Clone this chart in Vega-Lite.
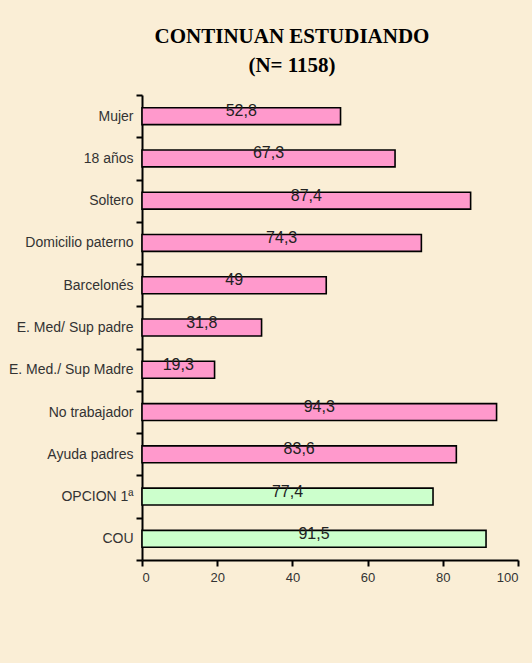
{
  "$schema": "https://vega.github.io/schema/vega-lite/v6.json",
  "width": 376,
  "height": 465,
  "autosize": {"type": "none"},
  "padding": {"left": 142, "top": 95, "right": 14, "bottom": 103},
  "background": "#FAEED6",
  "view": {"stroke": null},
  "title": {
    "text": ["CONTINUAN ESTUDIANDO", "(N= 1158)"],
    "font": "Liberation Serif",
    "fontSize": 21,
    "fontWeight": "bold",
    "color": "#000000",
    "anchor": "middle",
    "dx": -38,
    "offset": -9,
    "baseline": "bottom",
    "lineHeight": 29
  },
  "data": {
    "values": [
      {"cat": "Mujer", "valor": 52.8, "etiqueta": "52,8", "grupo": "perfil"},
      {"cat": "18 años", "valor": 67.3, "etiqueta": "67,3", "grupo": "perfil"},
      {"cat": "Soltero", "valor": 87.4, "etiqueta": "87,4", "grupo": "perfil"},
      {"cat": "Domicilio paterno", "valor": 74.3, "etiqueta": "74,3", "grupo": "perfil"},
      {"cat": "Barcelonés", "valor": 49, "etiqueta": "49", "grupo": "perfil"},
      {"cat": "E. Med/ Sup padre", "valor": 31.8, "etiqueta": "31,8", "grupo": "perfil"},
      {"cat": "E. Med./ Sup Madre", "valor": 19.3, "etiqueta": "19,3", "grupo": "perfil"},
      {"cat": "No trabajador", "valor": 94.3, "etiqueta": "94,3", "grupo": "perfil"},
      {"cat": "Ayuda padres", "valor": 83.6, "etiqueta": "83,6", "grupo": "perfil"},
      {"cat": "OPCION 1ª", "valor": 77.4, "etiqueta": "77,4", "grupo": "academico"},
      {"cat": "COU", "valor": 91.5, "etiqueta": "91,5", "grupo": "academico"}
    ]
  },
  "encoding": {
    "y": {
      "field": "cat",
      "type": "nominal",
      "sort": null,
      "title": null,
      "scale": {"paddingInner": 0, "paddingOuter": 0},
      "axis": {
        "tickBand": "extent",
        "domainColor": "#000000",
        "domainWidth": 2,
        "tickColor": "#000000",
        "tickWidth": 2,
        "tickSize": 6,
        "labelPadding": 3,
        "labelFont": "Liberation Sans",
        "labelFontSize": 14,
        "labelColor": "#333333",
        "grid": false
      }
    }
  },
  "layer": [
    {
      "mark": {"type": "bar", "height": {"band": 0.4}, "stroke": "#000000", "strokeWidth": 1.6},
      "encoding": {
        "x": {
          "field": "valor",
          "type": "quantitative",
          "title": null,
          "scale": {"domain": [0, 100], "nice": false},
          "axis": {
            "values": [0, 20, 40, 60, 80, 100],
            "grid": false,
            "domainColor": "#000000",
            "domainWidth": 2,
            "tickColor": "#000000",
            "tickWidth": 2,
            "tickSize": 6,
            "labelPadding": 5,
            "labelFont": "Liberation Sans",
            "labelFontSize": 13,
            "labelColor": "#333333"
          }
        },
        "color": {
          "field": "grupo",
          "type": "nominal",
          "scale": {"domain": ["perfil", "academico"], "range": ["#FF99CC", "#CCFFCC"]},
          "legend": null
        }
      }
    },
    {
      "transform": [{"calculate": "datum.valor / 2", "as": "centro"}],
      "mark": {"type": "text", "baseline": "middle", "align": "center", "dy": -5, "font": "Liberation Sans", "fontSize": 16, "color": "#222222"},
      "encoding": {
        "x": {"field": "centro", "type": "quantitative"},
        "text": {"field": "etiqueta"}
      }
    }
  ]
}
